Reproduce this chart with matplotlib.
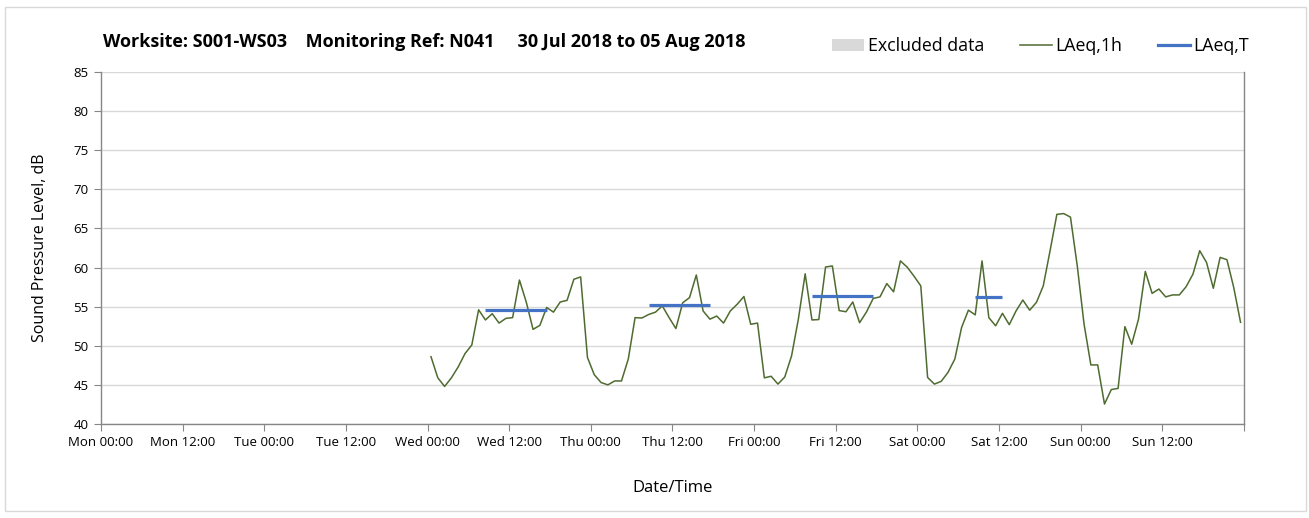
import pandas as pd
import matplotlib
matplotlib.use('Agg')
import matplotlib.pyplot as plt
import matplotlib.dates as mdates
from matplotlib.lines import Line2D
from matplotlib.patches import Patch, Rectangle

plt.rcParams['font.family'] = ['Open Sans', 'DejaVu Sans']

# Hourly LAeq,1h results, first hour ends Wed 01 Aug 00:30
start_time = '2018-08-01 00:30'
laeq_1h = [
    48.6, 45.9, 44.8, 45.9, 47.3, 49.0, 50.1, 54.6, 53.3, 54.1, 52.9, 53.5,
    53.6, 58.4, 55.6, 52.1, 52.6, 54.9, 54.3, 55.6, 55.8, 58.5, 58.8, 48.5,
    46.3, 45.3, 45.0, 45.5, 45.5, 48.3, 53.6, 53.55, 54.0, 54.3, 55.1, 53.6,
    52.2, 55.5, 56.15, 59.05, 54.45, 53.4, 53.8, 52.9, 54.45, 55.3, 56.3, 52.75,
    52.9, 45.9, 46.1, 45.1, 46.0, 48.7, 53.4, 59.2, 53.3, 53.35, 60.07, 60.2,
    54.5, 54.35, 55.6, 52.95, 54.3, 56.05, 56.25, 57.95, 56.9, 60.85, 60.05, 58.9,
    57.65, 45.95, 45.1, 45.45, 46.6, 48.3, 52.35, 54.55, 53.95, 60.85, 53.6, 52.55,
    54.15, 52.7, 54.45, 55.85, 54.55, 55.55, 57.65, 62.15, 66.8, 66.9, 66.45, 60.2,
    52.75, 47.55, 47.55, 42.55, 44.4, 44.55, 52.45, 50.2, 53.4, 59.5, 56.7, 57.25,
    56.25, 56.5, 56.5, 57.55, 59.15, 62.15, 60.65, 57.35, 61.3, 61.0, 57.45, 53.0,
]

# Working period LAeq,T
period_start = ['2018-08-01 08:30', '2018-08-02 08:30', '2018-08-03 08:30', '2018-08-04 08:30']
period_end = ['2018-08-01 17:30', '2018-08-02 17:30', '2018-08-03 17:30', '2018-08-04 12:30']
laeq_t = [54.55, 55.25, 56.3, 56.2]

week_start = pd.Timestamp('2018-07-30 00:00')
week_end = pd.Timestamp('2018-08-06 00:00')

times = pd.date_range(start_time, periods=len(laeq_1h), freq='h')

fig = plt.figure(figsize=(13.09, 5.18), dpi=100)
ax = fig.add_axes([0.0772, 0.1815, 0.8731, 0.6795])

ax.plot(times, laeq_1h, color='#4e6b30', lw=1.1, zorder=3)
for s, e, v in zip(period_start, period_end, laeq_t):
    ax.plot([pd.Timestamp(s), pd.Timestamp(e)], [v, v], color='#4472c4', lw=2.3,
            solid_capstyle='butt', zorder=4)

ax.set_xlim(week_start, week_end)
ax.set_ylim(40, 85)
ax.set_yticks(range(40, 90, 5))

ticks = pd.date_range(week_start, week_end, freq='12h')
ax.set_xticks(ticks)
ax.set_xticklabels([t.strftime('%a %H:%M') if t < week_end else '' for t in ticks])
ax.xaxis.set_minor_locator(mdates.DayLocator())

# gridlines: horizontal every 5 dB, vertical at midnight
ax.grid(axis='y', which='major', color='#d9d9d9', lw=1.0)
ax.grid(axis='x', which='minor', color='#d9d9d9', lw=1.0)
ax.set_axisbelow(True)

for side in ['left', 'bottom', 'right']:
    ax.spines[side].set_color('#868686')
    ax.spines[side].set_linewidth(1.0)
ax.spines['top'].set_visible(False)
ax.tick_params(axis='both', which='major', length=5, color='#868686', labelsize=9.5, pad=4)
ax.tick_params(axis='x', which='minor', length=0)

ax.set_ylabel('Sound Pressure Level, dB', fontsize=11.5, labelpad=18)
ax.set_xlabel('Date/Time', fontsize=12, labelpad=22)

fig.text(0.079, 0.918, 'Worksite: S001-WS03    Monitoring Ref: N041     30 Jul 2018 to 05 Aug 2018',
         fontsize=13, fontweight='bold', ha='left', va='center')

handles = [Patch(facecolor='#d9d9d9', edgecolor='none'),
           Line2D([], [], color='#4e6b30', lw=1.1),
           Line2D([], [], color='#4472c4', lw=2.3)]
ax.legend(handles, ['Excluded data', 'LAeq,1h', 'LAeq,T'], ncol=3, frameon=False,
          loc='lower right', bbox_to_anchor=(1.014, 1.017), fontsize=12.8,
          handlelength=1.8, handletextpad=0.2, columnspacing=2.0, borderaxespad=0.2)

# outer frame
fig.patches.append(Rectangle((5 / 1309, 7 / 518), 1301 / 1309, 504 / 518,
                             transform=fig.transFigure, fill=False,
                             edgecolor='#d9d9d9', lw=1.0))

fig.savefig('out.png', dpi=100)
